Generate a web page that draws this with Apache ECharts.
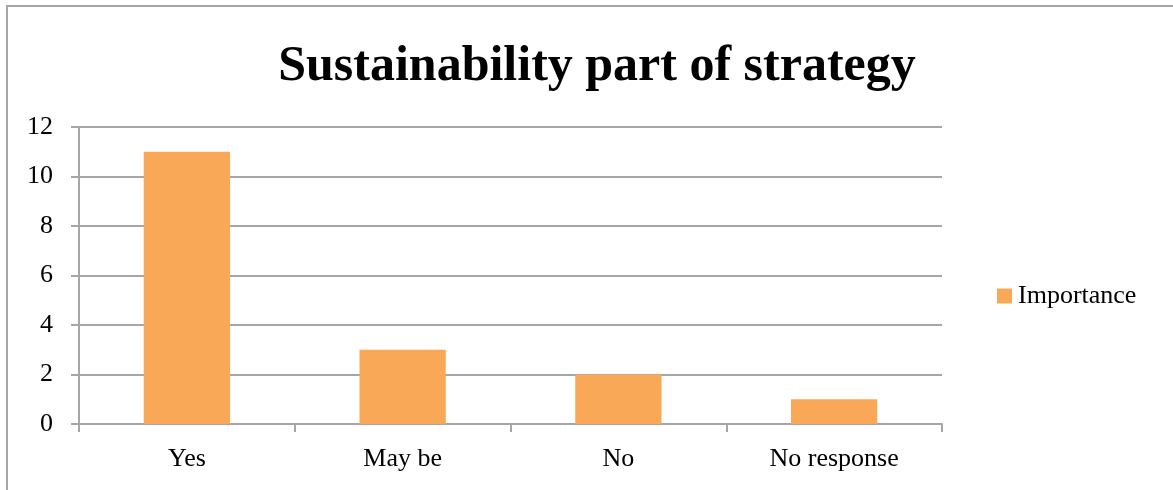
<!DOCTYPE html>
<html>
<head>
<meta charset="utf-8">
<script src="https://cdn.jsdelivr.net/npm/echarts@6/dist/echarts.min.js"></script>
<style>
  html, body { margin: 0; padding: 0; background: #fff; overflow: hidden; }
  #chart { width: 1173px; height: 490px; }
</style>
</head>
<body>
<div id="chart"></div>
<script>
// Survey answers: is sustainability part of the strategy?
const categories = ['Yes', 'May be', 'No', 'No response'];
const importance = [11, 3, 2, 1];
const seriesName = 'Importance';
const chartTitle = 'Sustainability part of strategy';

const FONT = '"Liberation Serif", "DejaVu Serif", serif';
const GRID_COLOR = '#a6a6a6';
const BAR_COLOR = '#f9a857';

const chart = echarts.init(document.getElementById('chart'), null, { renderer: 'canvas' });

chart.setOption({
  animation: false,
  backgroundColor: '#fff',
  textStyle: { fontFamily: FONT },
  graphic: [{
    type: 'rect',
    silent: true,
    shape: { x: 7, y: 6, width: 2000, height: 1000 },
    style: { fill: 'none', stroke: GRID_COLOR, lineWidth: 2 }
  }],
  title: {
    text: chartTitle,
    left: 592,
    top: 37,
    textAlign: 'center',
    textStyle: { fontFamily: FONT, fontWeight: 'bold', fontSize: 50, color: '#000' }
  },
  legend: {
    data: [seriesName],
    left: 992,
    top: 278,
    itemWidth: 15,
    itemHeight: 15,
    itemGap: 6,
    icon: 'rect',
    textStyle: { fontFamily: FONT, fontSize: 26, color: '#000', padding: [0, 0, 0, 1] }
  },
  grid: { left: 79, right: 231, top: 127, bottom: 66, containLabel: false },
  xAxis: {
    type: 'category',
    data: categories,
    boundaryGap: true,
    axisLine: { lineStyle: { color: GRID_COLOR, width: 2 } },
    axisTick: { show: true, alignWithLabel: false, length: 8, lineStyle: { color: GRID_COLOR, width: 2 } },
    axisLabel: { fontFamily: FONT, fontSize: 26, color: '#000', margin: 22 }
  },
  yAxis: {
    type: 'value',
    min: 0,
    max: 12,
    interval: 2,
    axisLine: { show: true, lineStyle: { color: GRID_COLOR, width: 2 } },
    axisTick: { show: true, length: 8, lineStyle: { color: GRID_COLOR, width: 2 } },
    axisLabel: { fontFamily: FONT, fontSize: 26, color: '#000', margin: 26 },
    splitLine: { show: true, lineStyle: { color: GRID_COLOR, width: 2 } }
  },
  series: [{
    name: seriesName,
    type: 'bar',
    data: importance,
    barCategoryGap: '60%',
    itemStyle: { color: BAR_COLOR }
  }]
});
</script>
</body>
</html>
